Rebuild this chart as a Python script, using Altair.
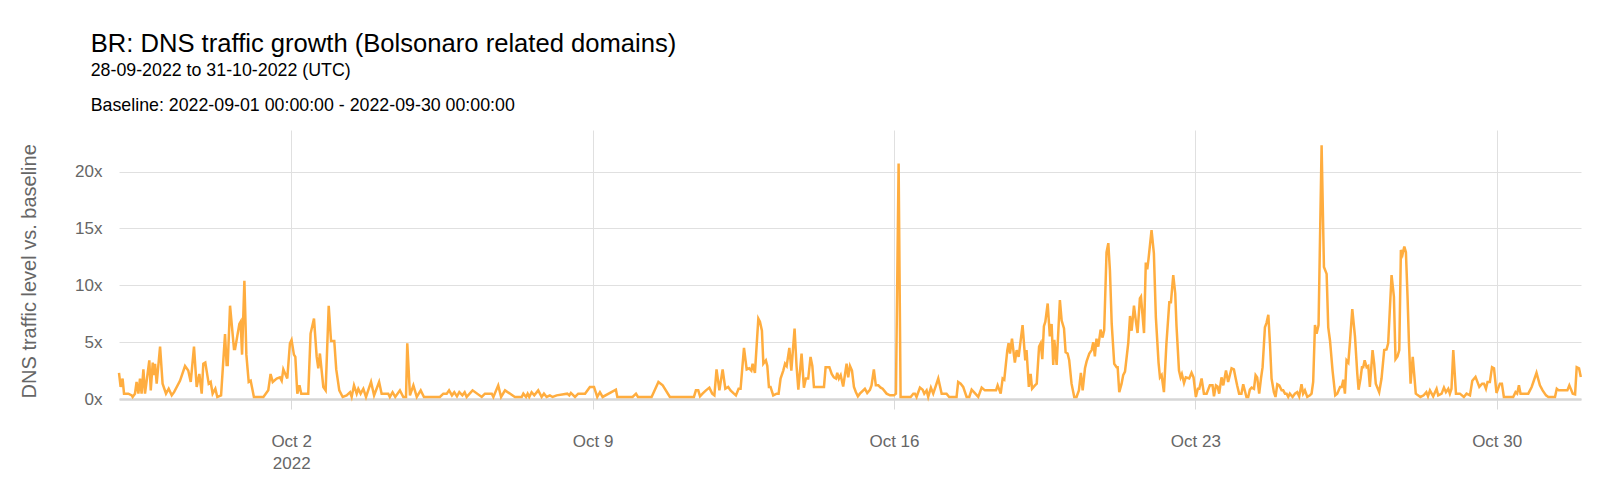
import altair as alt
import pandas as pd

title_text = "BR: DNS traffic growth (Bolsonaro related domains)"
subtitle_lines = [
    "28-09-2022 to 31-10-2022 (UTC)",
    "Baseline: 2022-09-01 00:00:00 - 2022-09-30 00:00:00",
]
y_title = "DNS traffic level vs. baseline"
start_time = "2022-09-28T00:00:00Z"
y_ticks = [0, 5, 10, 15, 20]
x_tick_days = [2, 9, 16, 23, 30]

# hours since start (UTC) and traffic level vs. baseline
hours = [
    0, 0.9, 2.0, 2.8, 5.2, 7.1, 7.6, 8.9, 9.8, 10.8, 11.7, 12.6, 13.6, 14.5, 16.9, 17.7, 18.8, 19.5, 20.1, 21.0,
    22.9, 24.3, 26.2, 27.7, 29.4, 30.7, 34.0, 36.8, 38.6, 40.0, 41.8, 43.3, 44.8, 46.1, 47.0, 48.1, 50.0, 51.1,
    52.2, 53.7, 54.8, 56.9, 59.1, 60.0, 60.6, 61.9, 64.1, 64.7, 67.1, 67.8, 68.6, 69.9, 71.0, 72.3, 73.4, 74.1,
    75.2, 80.5, 83.2, 84.5, 85.7, 87.9, 89.7, 90.7, 91.6, 93.8, 95.3, 96.2, 97.5, 98.3, 99.4, 100.6, 101.6,
    102.8, 105.5, 106.8, 108.7, 110.2, 111.1, 112.0, 113.9, 115.2, 116.9, 118.2, 120.0, 121.1, 122.8, 124.7,
    126.9, 128.8, 129.7, 131.0, 132.5, 133.4, 134.7, 136.2, 137.7, 140.5, 142.2, 145.0, 146.4, 150.1, 151.0,
    152.5, 154.0, 156.6, 158.5, 160.0, 160.7, 162.2, 164.1, 166.0, 168.2, 170.0, 178.9, 180.8, 182.7, 184.0,
    185.6, 186.9, 188.4, 189.7, 191.4, 192.7, 193.8, 197.1, 202.2, 204.0, 207.8, 208.7,
    211.4, 213.0, 215.2, 220.7, 224.5, 225.4, 226.9, 227.8, 228.7, 230.0, 231.5, 233.7, 235.6, 236.9, 238.4,
    240.2, 241.7, 244.0, 249.9, 251.0, 251.9, 254.2, 256.0, 259.8, 262.5, 264.8, 266.6, 268.1, 269.6, 277.0,
    277.8, 286.3, 288.2, 289.3, 296.9, 300.7, 303.1, 307.1,
    320.5, 321.6, 322.9, 323.9, 325.3, 327.2, 329.1, 330.7, 331.9, 333.1, 334.7, 336.5, 338.0, 339.6, 340.9,
    342.8, 343.9, 345.4, 346.5, 348.4, 349.9, 351.3, 352.5, 353.2, 354.5, 356.4, 357.3, 358.4, 359.2, 360.6,
    361.4, 362.3, 363.2, 364.7, 366.6, 367.7, 368.8, 370.3, 371.3, 372.2, 373.7, 374.8, 376.6, 377.7, 378.7,
    380.5, 381.8, 382.9, 384.2, 385.5, 386.5, 387.4, 393.0, 393.9, 396.0, 397.3, 398.5, 399.7, 400.4, 401.3,
    402.3, 403.7, 405.6, 406.5, 407.5, 408.6, 409.7, 410.8, 411.9, 413.0, 415.8, 417.1,
    418.6, 419.5, 420.8, 421.9, 423.3, 424.6, 425.7, 427.9, 429.8, 432.0, 433.1, 434.6, 435.7, 441.3, 442.8,
    443.7, 444.6, 446.5, 448.0, 448.9, 450.2, 451.1, 452.6, 453.9, 456.7, 458.6, 461.3, 462.8, 466.9, 467.8,
    469.2, 470.6, 472.5, 474.0, 475.3, 476.6, 479.0, 480.9, 482.7, 488.9, 489.8, 491.5, 492.6, 493.5, 495.2,
    495.9, 496.7, 497.8, 499.4, 500.4, 501.5, 503.7, 505.2, 505.9, 507.2, 508.2, 509.0, 510.6, 511.6, 512.9,
    513.8, 514.7, 515.6, 516.4, 517.7, 518.9, 519.9, 520.8, 521.4, 522.7, 524.5,
    525.5, 526.8, 527.7, 528.8, 529.7, 531.0, 532.5, 533.8, 535.1, 536.2, 537.2, 538.5, 539.4, 540.9, 542.2,
    543.1, 544.0, 544.9, 545.9, 547.2, 548.3, 549.2, 550.5, 551.5, 552.4, 553.4, 554.8, 556.1, 556.7, 557.6,
    558.9, 559.8, 560.8, 562.6, 563.6, 564.5, 565.8, 566.9, 567.8, 569.1, 569.7, 571.4, 572.4, 573.2, 573.9,
    575.6, 576.9, 578.0, 579.5, 580.3, 581.2, 582.5, 583.9, 585.5, 586.4, 587.7, 588.8, 589.5, 590.9, 591.8,
    592.5, 593.7, 594.7, 596.6, 597.9, 599.0, 600.3, 601.4, 602.2, 603.5, 604.8, 606.3, 608.1, 609.6, 610.4,
    611.5, 612.4, 613.3, 614.6, 615.6, 617.1, 618.3, 620.2, 621.5, 622.4, 623.3, 624.4, 625.7, 626.7, 628.5,
    629.5,
    630.4, 631.4, 632.7, 633.6, 634.5, 635.6, 636.6, 637.5, 638.8, 639.7, 640.7, 641.6, 642.5, 643.8, 644.7,
    645.7, 646.8, 648.1, 649.0, 650.0, 650.9, 651.8, 652.7, 654.2, 655.5, 656.8, 657.9, 659.2, 660.1, 661.1,
    662.4, 663.9, 664.8, 665.7, 666.7, 667.6, 668.7, 670.4, 671.7, 673.2, 674.1, 675.1, 676.5, 678.0, 679.1,
    680.7, 681.6, 682.5, 683.4, 684.3, 685.3, 686.2, 687.5, 689.0, 690.3, 691.0, 692.1, 692.9, 693.6, 694.4,
    695.5, 696.4, 697.3, 698.8, 699.7, 700.6, 702.5, 703.8, 705.3, 706.6, 707.5, 709.4, 710.7, 711.6, 712.7,
    713.7, 714.6, 715.5, 716.5, 717.4, 718.3, 719.1, 720.0, 721.2, 722.0, 722.9, 725.5, 727.3, 728.8, 729.7,
    730.8, 732.6, 734.5, 735.4, 737.3, 738.6, 739.7, 741.0, 741.9, 742.8, 743.8, 745.3, 747.5, 749.7, 751.2,
    753.1, 754.4, 756.2, 758.3, 759.9, 760.9, 762.0, 762.9, 764.2, 765.4, 766.5, 767.9, 769.8, 770.9, 772.0,
    777.2, 778.5, 779.4, 780.4, 781.3, 785.6, 787.5, 790.2, 792.1, 793.6, 795.5, 796.8, 800.5, 801.5, 802.6,
    807.4, 808.5, 810.4, 811.7, 812.6, 813.9, 814.9,
]
ratio = [
    2.3, 1.06, 1.8, 0.47, 0.47, 0.32, 0.18, 0.47, 1.5, 0.47, 1.8, 0.47, 2.6, 0.47, 3.4, 0.76, 3.2, 2.1, 3.1, 1.35,
    4.6, 1.35, 0.47, 0.9, 0.32, 0.6, 1.6, 2.9, 2.5, 1.5, 4.6, 1.06, 2.2, 0.47, 3.1, 3.2, 1.35, 1.5,
    0.47, 0.9, 0.18, 0.32, 5.7, 3.0, 3.0, 8.2, 4.4, 4.4, 6.6, 6.8, 3.9, 10.4, 3.9, 1.5, 1.6, 1.06,
    0.18, 0.18, 0.76, 2.2, 1.5, 1.8, 1.9, 1.6, 2.6, 1.8, 4.9, 5.2, 3.9, 3.7, 0.47, 1.2, 0.47,
    0.47, 0.47, 5.75, 7.07, 3.7, 2.7, 4.0, 1.06, 0.76, 8.2, 5.1, 5.1, 2.6, 0.76, 0.18,
    0.32, 0.6, 0.18, 1.2, 0.47, 0.9, 0.47, 0.9, 0.18, 1.5, 0.32, 1.5, 0.47, 0.47, 0.18,
    0.6, 0.18, 0.76, 0.18, 0.18, 4.9, 0.32, 1.2, 0.18, 0.76, 0.18, 0.18, 0.47, 0.47, 0.76,
    0.32, 0.6, 0.23, 0.6, 0.32, 0.6, 0.18, 0.76, 0.18, 0.47, 0.47, 0.18,
    1.2, 0.18, 0.76, 0.18, 0.18, 0.47, 0.18, 0.47, 0.18, 0.6, 0.32, 0.76, 0.18, 0.47, 0.18,
    0.32, 0.18, 0.32, 0.47, 0.32, 0.53, 0.18, 0.47, 0.47, 1.06, 1.06, 0.18, 0.6, 0.18, 0.82,
    0.18, 0.18, 0.47, 0.18, 0.18, 1.5, 1.2, 0.18,
    0.18, 0.76, 0.76, 0.23, 0.47, 0.76, 1.0, 0.47, 0.32, 2.6, 0.76, 2.6, 0.9, 1.06, 0.76,
    0.47, 0.32, 0.9, 0.9, 4.5, 2.6, 2.7, 2.5, 3.1, 2.3, 7.07, 6.8, 6.0, 3.1, 3.4,
    2.9, 1.06, 1.06, 0.32, 0.47, 0.47, 1.8, 2.5, 3.1, 2.9, 4.5, 2.5, 6.2, 2.9, 0.82,
    4.0, 1.0, 1.8, 1.8, 3.7, 2.9, 1.06, 1.06, 2.8, 2.8, 2.2, 1.9, 1.8, 2.3, 1.8,
    2.1, 1.1, 3.1, 1.9, 2.9, 2.5, 1.06, 0.6, 0.23, 0.47, 0.9, 0.53,
    0.8, 1.2, 2.6, 1.2, 1.2, 1.0, 0.9, 0.47, 0.32, 0.32, 0.47, 20.7, 0.18, 0.18, 0.47,
    0.47, 0.18, 1.0, 0.82, 0.47, 0.76, 0.18, 1.0, 0.47, 1.8, 0.47, 0.47, 0.18, 0.18, 1.5,
    1.35, 1.06, 0.18, 0.18, 0.82, 0.6, 0.18, 1.0, 0.76, 0.76, 1.2, 0.47, 1.8, 1.7, 4.3,
    4.9, 4.0, 5.3, 3.2, 4.3, 3.7, 6.5, 3.4, 4.3, 1.06, 2.2, 0.9, 1.2, 1.35, 4.6,
    4.9, 3.5, 6.4, 6.8, 8.4, 5.5, 6.6, 3.0, 5.2, 3.0, 8.7,
    6.9, 6.2, 4.1, 4.0, 3.4, 1.35, 0.18, 0.18, 0.76, 2.3, 0.76, 2.7, 3.3, 4.0, 4.3,
    5.0, 3.75, 5.3, 4.6, 6.1, 5.4, 6.05, 12.9, 13.7, 11.3, 6.6, 3.1, 2.8, 2.8, 0.6,
    1.35, 2.1, 2.4, 4.9, 7.3, 6.0, 8.2, 6.8, 5.8, 8.85, 9.0, 5.8, 12.0, 11.4, 12.3,
    14.85, 12.8, 7.2, 3.2, 1.9, 2.1, 0.6, 4.9, 8.5, 8.5, 10.9, 9.3, 6.45, 2.5, 1.9,
    2.2, 1.4, 1.9, 1.8, 2.3, 1.9, 0.18, 0.9, 0.9, 1.8, 0.47, 0.47, 1.2, 1.2, 0.23,
    1.2, 1.1, 0.47, 1.9, 1.2, 2.5, 1.5, 2.7, 2.6, 1.9, 1.2, 0.47, 0.47, 1.3, 0.18,
    0.18,
    0.82, 1.0, 0.9, 2.1, 1.9, 0.47, 1.8, 2.8, 6.3, 6.7, 7.4, 4.9, 1.8, 0.6, 0.18,
    1.3, 1.2, 0.76, 0.76, 0.47, 0.47, 0.18, 0.47, 0.18, 0.47, 0.6, 0.23, 1.3, 0.47, 0.76,
    0.18, 0.32, 0.47, 1.5, 6.5, 5.75, 6.5, 22.3, 11.6, 11.0, 6.3, 5.1, 2.5, 0.32, 0.47,
    1.06, 1.06, 1.7, 0.47, 3.4, 3.2, 5.0, 7.9, 5.5, 2.2, 0.82, 1.8, 2.8, 2.8, 3.4,
    2.8, 2.9, 1.06, 4.3, 3.1, 1.35, 0.6, 1.8, 4.3, 4.35, 4.9, 10.9, 9.0, 3.5, 3.75,
    4.3, 13.1, 12.7, 13.4, 12.9, 9.0, 4.9, 1.35, 3.7, 2.2, 0.47, 0.18, 0.32, 0.6, 0.23,
    0.76, 0.23, 0.9, 0.32, 0.47, 1.0, 0.6, 0.9, 0.47, 0.9, 4.3, 0.47, 0.47, 0.18, 0.47,
    0.32, 1.6, 1.94, 1.06, 1.35, 1.35, 0.9, 1.5, 1.5, 2.8, 2.7, 0.53, 1.35, 1.35, 0.18,
    0.18, 0.6, 0.47, 1.2, 0.47, 0.47, 1.06, 2.3, 1.2, 0.76, 0.32, 0.18, 0.18, 0.9, 0.76,
    0.76, 1.2, 0.47, 0.41, 2.8, 2.7, 1.94,
]

t0 = pd.Timestamp(start_time)
times = [(t0 + pd.Timedelta(hours=h)).strftime("%Y-%m-%dT%H:%M:%SZ") for h in hours]
df = pd.DataFrame({"time": times, "ratio": ratio})

FONT = "Liberation Sans"
LINE_COLOR = "#ffad3f"

x_axis = alt.Axis(
    values=[alt.DateTime(year=2022, month=10, date=d, utc=True) for d in x_tick_days],
    labelExpr="utcdate(datum.value) == 2 ? ['Oct 2', '2022'] : utcFormat(datum.value, '%b %-d')",
    title=None,
    grid=True,
    gridColor="#e0e0e0",
    gridWidth=1,
    ticks=True,
    tickColor="#d9d9d9",
    tickSize=10,
    tickWidth=1,
    domain=True,
    domainColor="#d6d6d6",
    domainWidth=2.5,
    labelFont=FONT,
    labelFontSize=17,
    labelColor="#666666",
    labelPadding=24,
    labelLineHeight=22,
    labelAlign="center",
)

y_axis = alt.Axis(
    values=y_ticks,
    labelExpr="datum.value + 'x'",
    title=y_title,
    grid=True,
    gridColor="#e0e0e0",
    gridWidth=1,
    ticks=False,
    domain=False,
    labelFont=FONT,
    labelFontSize=17,
    labelColor="#666666",
    labelPadding=17,
    titleFont=FONT,
    titleFontSize=20,
    titleFontWeight="normal",
    titleColor="#666666",
    titleX=-90,
    titleY=140.8,
    titleBaseline="middle",
    titleAngle=270,
)

chart = (
    alt.Chart(df)
    .mark_line(color=LINE_COLOR, strokeWidth=2.5, interpolate="linear")
    .encode(
        x=alt.X(
            "time:T",
            scale=alt.Scale(
                type="utc",
                domain=[
                    alt.DateTime(year=2022, month=9, date=28, utc=True),
                    alt.DateTime(year=2022, month=10, date=31, hours=23, utc=True),
                ],
                nice=False,
            ),
            axis=x_axis,
        ),
        y=alt.Y("ratio:Q", scale=alt.Scale(domain=[0, 23.65], nice=False), axis=y_axis),
    )
    .properties(
        width=1462,
        height=269,
        title=alt.TitleParams(
            text=title_text,
            subtitle=subtitle_lines,
            anchor="start",
            frame="group",
            dx=-28.3,
            offset=15.7,
            font=FONT,
            fontSize=25.6,
            fontWeight="normal",
            color="#000000",
            subtitleFont=FONT,
            subtitleFontSize=17.8,
            subtitleColor="#000000",
            subtitlePadding=4,
            subtitleLineHeight=35,
        ),
        autosize=alt.AutoSizeParams(type="none"),
        padding={"left": 111, "top": 122, "right": 5, "bottom": 80},
    )
    .configure_view(stroke=None)
)

chart.save("out.html", embed_options={"renderer": "svg", "actions": False})
